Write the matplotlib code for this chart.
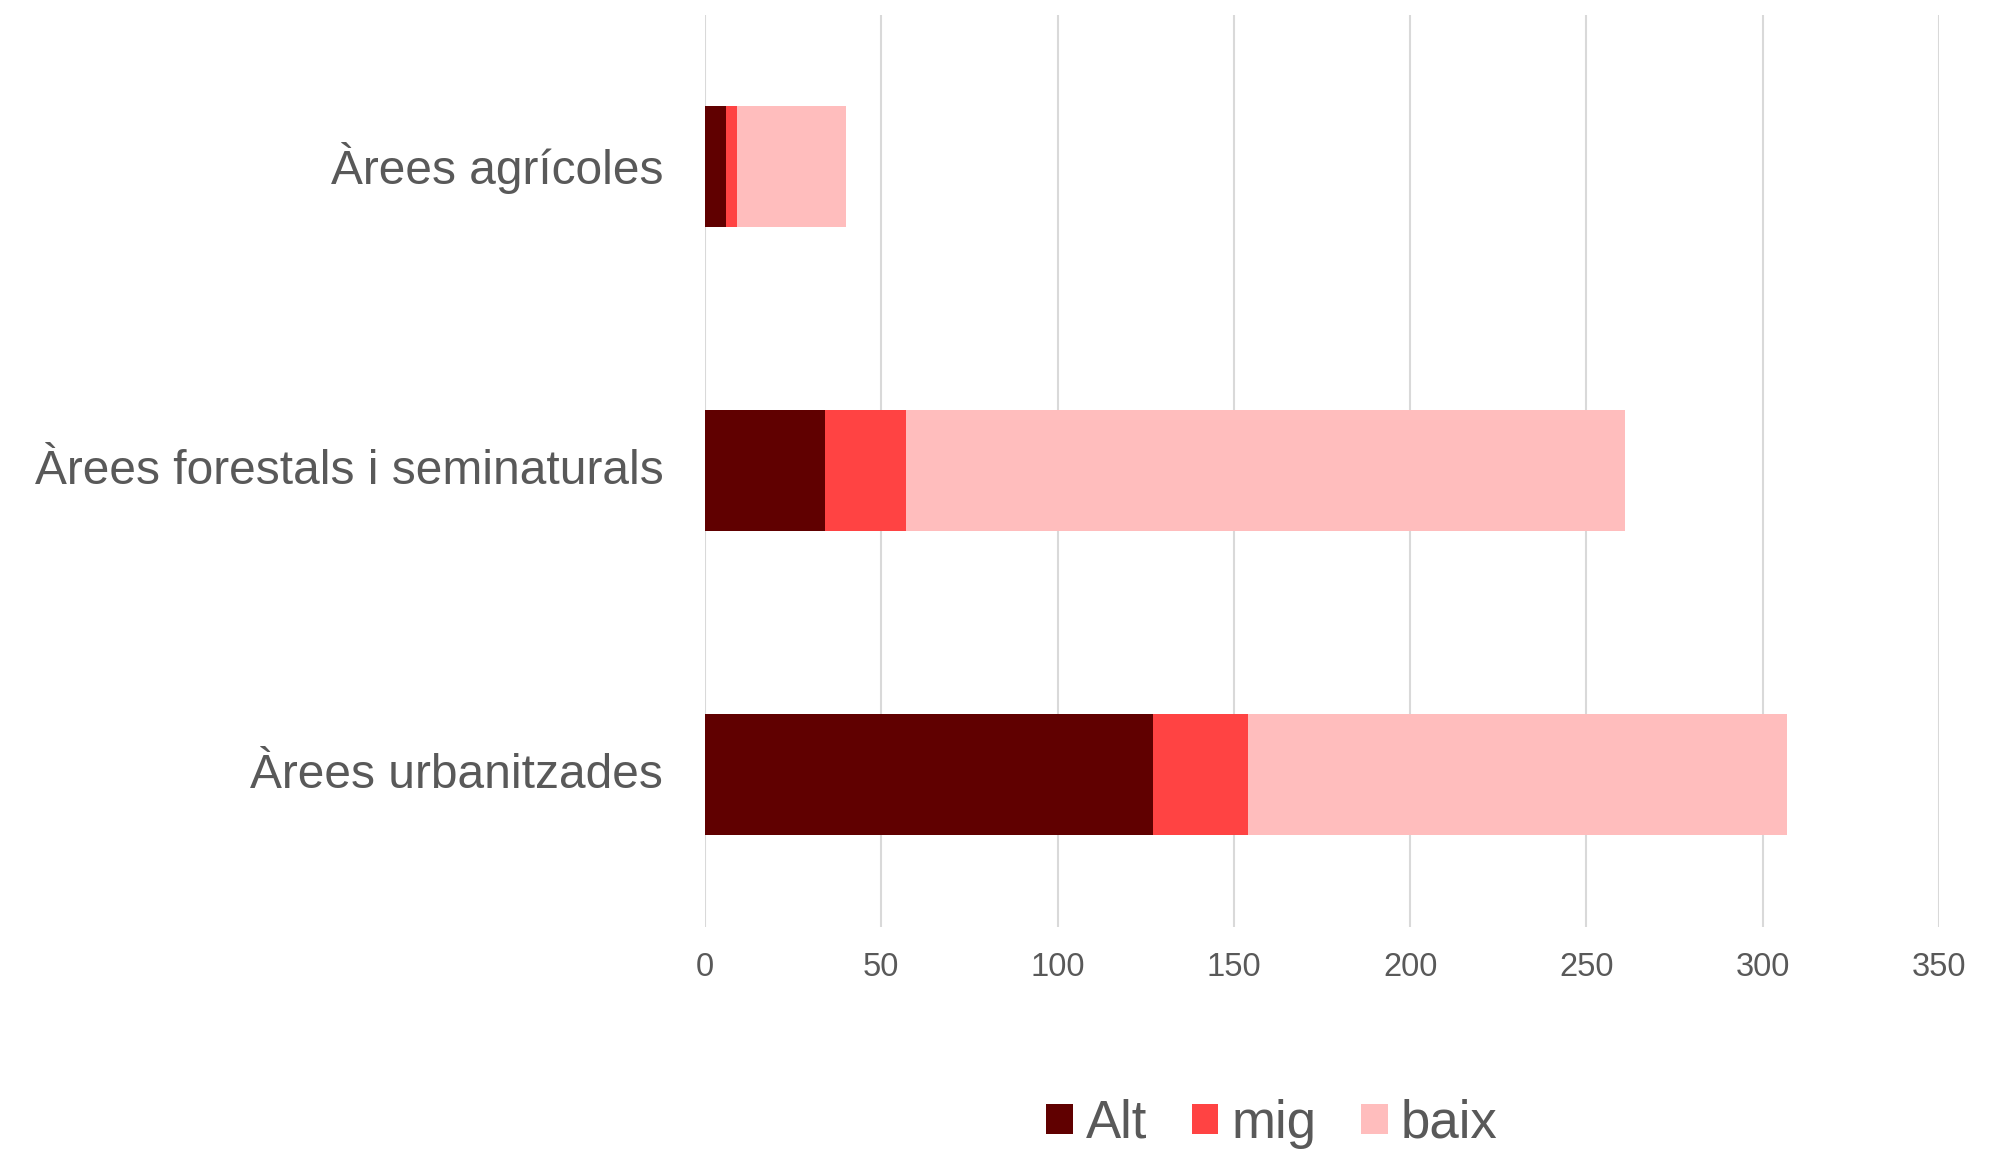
import matplotlib
matplotlib.use("Agg")
import matplotlib.pyplot as plt
import matplotlib.transforms as mtransforms
import numpy as np

categories = ["Àrees agrícoles", "Àrees forestals i seminaturals", "Àrees urbanitzades"]
alt = [6, 34, 127]
mig = [3, 23, 27]
baix = [31, 204, 153]
series_names = ["Alt", "mig", "baix"]
colors = ["#600000", "#FF4343", "#FFBDBD"]
xticks = [0, 50, 100, 150, 200, 250, 300, 350]

plt.rcParams['font.family'] = ['Liberation Sans', 'DejaVu Sans']
text_color = "#595959"

fig = plt.figure(figsize=(20.10, 11.50), dpi=100)
ax = fig.add_axes([705/2010, 1 - 926.5/1150, (1939-705)/2010, (926.5-14.5)/1150])

y = np.arange(len(categories))
left = np.zeros(len(categories))
for name, vals, c in zip(series_names, [alt, mig, baix], colors):
    ax.barh(y, vals, left=left, height=0.4, color=c, label=name, zorder=3)
    left = left + np.array(vals)

ax.set_ylim(len(categories) - 0.5, -0.5)
ax.set_xlim(0, 350)
ax.set_xticks(xticks)
ax.set_xticklabels([str(t) for t in xticks])
ax.set_yticks(y)
ax.set_yticklabels(categories)
ax.tick_params(axis='x', length=0, pad=18, labelsize=23.5, labelcolor=text_color)
ax.tick_params(axis='y', length=0, pad=30, labelsize=34.5, labelcolor=text_color)
shift = mtransforms.ScaledTranslation(0, 4/100, fig.dpi_scale_trans)
for lab in ax.get_yticklabels():
    lab.set_transform(lab.get_transform() + shift)
for s in ax.spines.values():
    s.set_visible(False)
ax.grid(axis='x', color="#D9D9D9", linewidth=1.5, zorder=0)
ax.set_axisbelow(True)

leg = fig.legend(loc='center', bbox_to_anchor=(1272/2010, 1 - 1124/1150), ncol=3,
                 frameon=False, fontsize=38, handlelength=0.5, handleheight=0.5,
                 handletextpad=0.25, columnspacing=0.85, labelcolor=text_color)

fig.savefig("out.png", dpi=100)
